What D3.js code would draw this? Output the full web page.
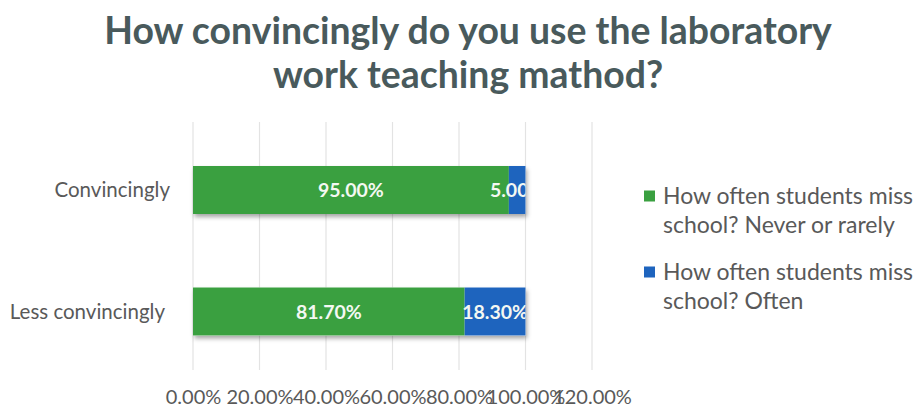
<!DOCTYPE html>
<html><head><meta charset="utf-8">
<script src="https://cdn.jsdelivr.net/npm/d3@7"></script>
<style>html,body{margin:0;padding:0;background:#fff;}svg{display:block;}</style>
</head><body>
<svg id="chart" width="923" height="410"></svg>
<script>
const titleLines = ["How convincingly do you use the laboratory", "work teaching mathod?"];
const categories = ["Convincingly", "Less convincingly"];
const seriesNames = ["How often students miss school? Never or rarely", "How often students miss school? Often"];
const legendLines = [["How often students miss", "school? Never or rarely"], ["How often students miss", "school? Often"]];
const neverRarely = [0.95, 0.817];
const often = [0.05, 0.183];
const tickValues = [0, 0.2, 0.4, 0.6, 0.8, 1.0, 1.2];
const colors = ["#3aa040", "#1e64be"];

const svg = d3.select("#chart");
const font = "Lato, 'Open Sans', sans-serif";

const defs = svg.append("defs");
const f = defs.append("filter").attr("id","shadow").attr("x","-5%").attr("y","-20%").attr("width","110%").attr("height","160%");
f.append("feDropShadow").attr("dx",1.5).attr("dy",3).attr("stdDeviation",2).attr("flood-color","#000").attr("flood-opacity",0.35);

function fitText(sel, width) {
  const w = sel.node().getComputedTextLength();
  const fs = parseFloat(sel.attr("font-size"));
  sel.attr("font-size", fs * width / w);
}
const t1 = svg.append("text").attr("x", 468).attr("y", 44).attr("text-anchor","middle")
  .attr("font-family", font).attr("font-weight","bold").attr("font-size", 36).attr("fill","#495a5c").text(titleLines[0]);
fitText(t1, 728);
const t2 = svg.append("text").attr("x", 468).attr("y", 88).attr("text-anchor","middle")
  .attr("font-family", font).attr("font-weight","bold").attr("font-size", 36).attr("fill","#495a5c").text(titleLines[1]);
t2.attr("font-size", t1.attr("font-size"));

const x = d3.scaleLinear().domain([0, 1.2]).range([193, 592]);
const y = d3.scaleBand().domain(categories).range([129.25, 372.25]).paddingInner(0).paddingOuter(0);
const barH = y.bandwidth() * 0.395;

svg.append("g").selectAll("line").data(tickValues).join("line")
  .attr("x1", d => x(d)).attr("x2", d => x(d)).attr("y1", 122).attr("y2", 370)
  .attr("stroke", "#e3e3e3").attr("stroke-width", 1.2);

const xAxis = d3.axisBottom(x).tickValues(tickValues).tickFormat(d3.format(".2%")).tickSize(0).tickPadding(0);
const gx = svg.append("g").attr("transform", "translate(0,390)").call(xAxis);
gx.select(".domain").remove();
gx.selectAll("text").attr("font-family", font).attr("font-size", 20).attr("fill", "#595959");

svg.append("g").selectAll("text").data(categories).join("text")
  .attr("x", (d,i) => i === 0 ? 170 : 165)
  .attr("y", d => y(d) + y.bandwidth()/2)
  .attr("dy", "0.35em").attr("text-anchor","end")
  .attr("font-family", font).attr("font-size", 20.5).attr("fill", "#595959").text(d => d);

const rows = categories.map((c,i) => ({cat: c, v0: neverRarely[i], v1: often[i]}));
const segs = [];
rows.forEach((r,i) => {
  segs.push({cat: r.cat, s: 0, start: 0, end: r.v0, val: r.v0, id: i});
  segs.push({cat: r.cat, s: 1, start: r.v0, end: r.v0 + r.v1, val: r.v1, id: i});
});

const barG = svg.append("g");
rows.forEach((r,i) => {
  barG.append("rect").attr("x", x(0)).attr("y", y(r.cat) + (y.bandwidth()-barH)/2)
    .attr("width", x(r.v0 + r.v1) - x(0)).attr("height", barH).attr("fill", "#fff").attr("filter","url(#shadow)");
  defs.append("clipPath").attr("id","clip"+i).append("rect")
    .attr("x", x(0) - 100).attr("y", y(r.cat))
    .attr("width", x(r.v0 + r.v1) - x(0) + 100).attr("height", y.bandwidth());
});
barG.selectAll("rect.seg").data(segs).join("rect").attr("class","seg")
  .attr("x", d => x(d.start)).attr("y", d => y(d.cat) + (y.bandwidth()-barH)/2)
  .attr("width", d => x(d.end) - x(d.start)).attr("height", barH)
  .attr("fill", d => colors[d.s]);

barG.selectAll("text.lbl").data(segs).join("text").attr("class","lbl")
  .attr("clip-path", d => "url(#clip"+d.id+")")
  .attr("x", d => (x(d.start) + x(d.end))/2)
  .attr("y", d => y(d.cat) + y.bandwidth()/2).attr("dy","0.36em")
  .attr("text-anchor","middle").attr("font-family", font).attr("font-weight","bold")
  .attr("font-size", 19.5).attr("fill","#f4f8f2").text(d => d3.format(".2%")(d.val));

const lg = svg.append("g");
legendLines.forEach((lines, i) => {
  const y0 = 196 + i * 76;
  lg.append("rect").attr("x", 644).attr("y", y0 - 5.5).attr("width", 11).attr("height", 11).attr("fill", colors[i]);
  lines.forEach((ln, j) => {
    lg.append("text").attr("x", 663).attr("y", y0 + j*28.5).attr("dy","0.36em")
      .attr("font-family", font).attr("font-size", 23).attr("fill","#595959").text(ln);
  });
});
</script>
</body></html>
